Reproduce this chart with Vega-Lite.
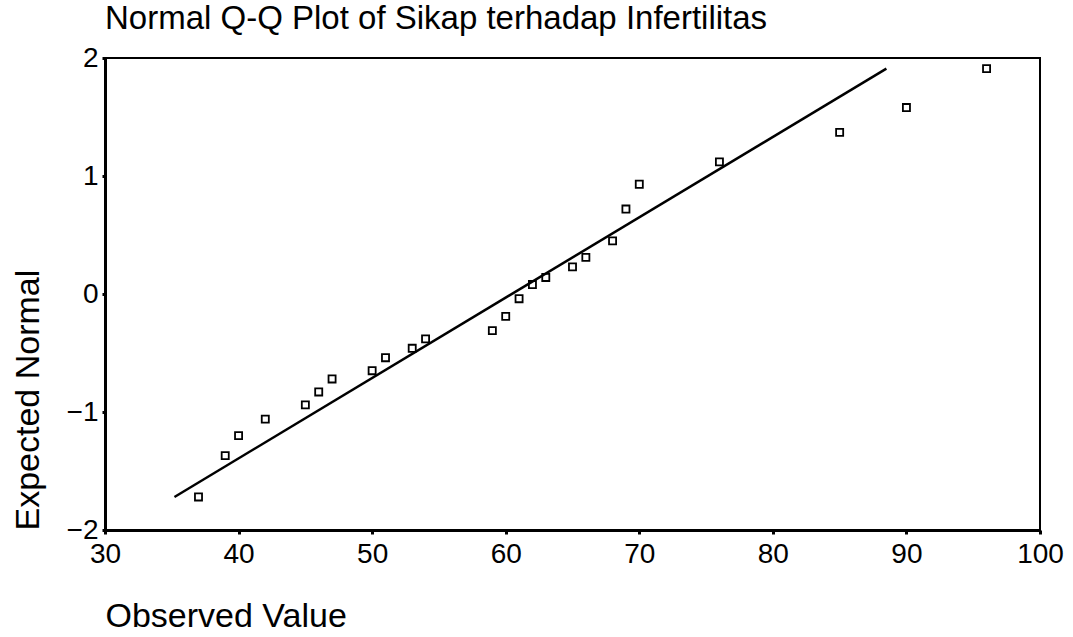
{
  "$schema": "https://vega.github.io/schema/vega-lite/v6.json",
  "autosize": "none",
  "width": 935,
  "height": 472,
  "padding": {"left": 105, "top": 58, "right": 33, "bottom": 107},
  "background": "white",
  "config": {
    "font": "Liberation Sans",
    "view": {"stroke": "black", "strokeWidth": 2}
  },
  "title": {
    "text": "Normal Q-Q Plot of Sikap terhadap Infertilitas",
    "anchor": "start",
    "frame": "group",
    "fontSize": 33,
    "fontWeight": "normal",
    "font": "Liberation Sans",
    "color": "black",
    "offset": 8
  },
  "datasets": {
    "points": [
      {"observed": 37, "expected": -1.72},
      {"observed": 39, "expected": -1.37},
      {"observed": 40, "expected": -1.2},
      {"observed": 42, "expected": -1.06},
      {"observed": 45, "expected": -0.94},
      {"observed": 46, "expected": -0.83},
      {"observed": 47, "expected": -0.72},
      {"observed": 50, "expected": -0.65},
      {"observed": 51, "expected": -0.54},
      {"observed": 53, "expected": -0.46},
      {"observed": 54, "expected": -0.38},
      {"observed": 59, "expected": -0.31},
      {"observed": 60, "expected": -0.19},
      {"observed": 61, "expected": -0.04},
      {"observed": 62, "expected": 0.08},
      {"observed": 63, "expected": 0.14},
      {"observed": 65, "expected": 0.23},
      {"observed": 66, "expected": 0.31},
      {"observed": 68, "expected": 0.45},
      {"observed": 69, "expected": 0.72},
      {"observed": 70, "expected": 0.93},
      {"observed": 76, "expected": 1.12},
      {"observed": 85, "expected": 1.37},
      {"observed": 90, "expected": 1.58},
      {"observed": 96, "expected": 1.91}
    ],
    "line": [
      {"observed": 35.2, "expected": -1.72},
      {"observed": 88.5, "expected": 1.91}
    ]
  },
  "encoding": {
    "x": {
      "field": "observed",
      "type": "quantitative",
      "scale": {"domain": [30, 100], "nice": false, "zero": false},
      "axis": {
        "values": [30, 40, 50, 60, 70, 80, 90, 100],
        "title": "Observed Value",
        "titleFontSize": 34,
        "titleFontWeight": "normal",
        "titleColor": "black",
        "titleX": 0,
        "titleY": 86,
        "titleAlign": "left",
        "titleBaseline": "middle",
        "labelFontSize": 28,
        "labelColor": "black",
        "labelPadding": 6,
        "labelFlush": false,
        "tickSize": 4,
        "tickWidth": 3,
        "tickColor": "black",
        "domainColor": "black",
        "domainWidth": 3,
        "grid": false
      }
    },
    "y": {
      "field": "expected",
      "type": "quantitative",
      "scale": {"domain": [-2, 2], "nice": false, "zero": false},
      "axis": {
        "values": [-2, -1, 0, 1, 2],
        "title": "Expected Normal",
        "titleFontSize": 34,
        "titleFontWeight": "normal",
        "titleColor": "black",
        "titleAngle": 270,
        "titleX": -77,
        "titleY": 472,
        "titleAlign": "left",
        "titleBaseline": "middle",
        "labelFontSize": 28,
        "labelColor": "black",
        "labelPadding": 4,
        "labelFlush": false,
        "tickSize": 3,
        "tickWidth": 3,
        "tickColor": "black",
        "domainColor": "black",
        "domainWidth": 3,
        "grid": false
      }
    }
  },
  "layer": [
    {
      "data": {"name": "line"},
      "mark": {"type": "line", "color": "black", "strokeWidth": 2.5}
    },
    {
      "data": {"name": "points"},
      "mark": {"type": "point", "shape": "square", "filled": false, "color": "black", "size": 50, "strokeWidth": 1.8, "opacity": 1}
    }
  ]
}
